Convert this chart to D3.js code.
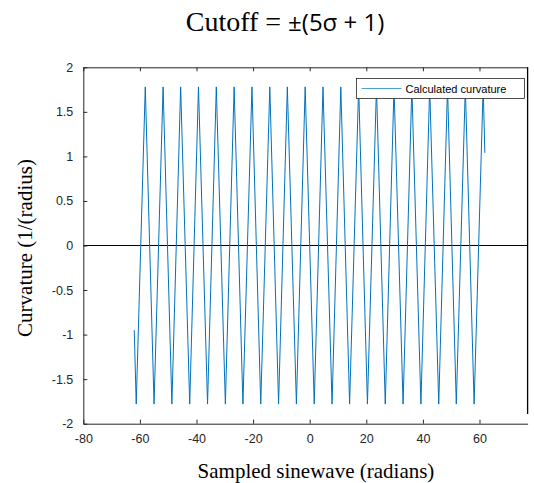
<!DOCTYPE html>
<html><head><meta charset="utf-8">
<script src="https://cdn.jsdelivr.net/npm/d3@7"></script>
<style>body{margin:0;background:#fff}svg{display:block}</style>
</head><body>
<svg id="c" width="534" height="483"></svg>
<script>
// Data: vertices of the curvature trace
const xVals = [-62.0,-61.3,-58.1,-55.0,-51.8,-48.7,-45.6,-42.4,-39.3,-36.1,-33.0,-29.8,-26.7,-23.6,-20.4,-17.3,-14.1,-11.0,-7.9,-4.7,-1.6,1.6,4.7,7.9,11.0,14.1,17.3,20.4,23.6,26.7,29.8,33.0,36.1,39.3,42.4,45.6,48.7,51.8,55.0,58.1,61.3,61.9];
const yVals = [-0.95,-1.78,1.78,-1.78,1.78,-1.78,1.78,-1.78,1.78,-1.78,1.78,-1.78,1.78,-1.78,1.78,-1.78,1.78,-1.78,1.78,-1.78,1.78,-1.78,1.78,-1.78,1.78,-1.78,1.78,-1.78,1.78,-1.78,1.78,-1.78,1.78,-1.78,1.78,-1.78,1.78,-1.78,1.78,-1.78,1.78,1.04];
const xTicks = [-80,-60,-40,-20,0,20,40,60];
const yTicks = [-2,-1.5,-1,-0.5,0,0.5,1,1.5,2];
const seriesName = "Calculated curvature";
const titleSerif = "Cutoff = ";
const titleSans = "±(5σ + 1)";
const xLabel = "Sampled sinewave (radians)";
const yLabel = "Curvature (1/(radius)";

const svg = d3.select("#c");
const x = d3.scaleLinear().domain([-80, 77]).range([83.3, 527.6]);
const y = d3.scaleLinear().domain([-2, 2]).range([423.7, 67.3]);
const axisColor = "#262626";
const tickFont = "Liberation Sans, Arial, sans-serif";

// zero line
svg.append("line").attr("x1", x(-80)).attr("x2", x(77)).attr("y1", y(0)).attr("y2", y(0))
  .attr("stroke", "#000").attr("stroke-width", 1);

// data line
const pts = xVals.map((v, i) => [v, yVals[i]]);
svg.append("path").datum(pts)
  .attr("d", d3.line().x(d => x(d[0])).y(d => y(d[1])))
  .attr("fill", "none").attr("stroke", "#0072BD").attr("stroke-width", 1);

function styleAxis(g) {
  g.selectAll("path").attr("stroke", axisColor);
  g.selectAll("line").attr("stroke", axisColor);
  g.selectAll("text").attr("fill", axisColor).style("font-family", tickFont).style("font-size", "12.5px");
}
const fmt = d => String(d);
// bottom axis
const gb = svg.append("g").attr("transform", `translate(0,${y(-2)})`)
  .call(d3.axisBottom(x).tickValues(xTicks).tickSizeInner(-4).tickSizeOuter(0).tickPadding(10).tickFormat(fmt));
styleAxis(gb);
// top axis
const gt = svg.append("g").attr("transform", `translate(0,${y(2)})`)
  .call(d3.axisTop(x).tickValues(xTicks).tickSizeInner(-4).tickSizeOuter(0).tickFormat(""));
styleAxis(gt);
// left axis
const gl = svg.append("g").attr("transform", `translate(${x(-80)},0)`)
  .call(d3.axisLeft(y).tickValues(yTicks).tickSizeInner(-4).tickSizeOuter(0).tickPadding(10).tickFormat(fmt));
styleAxis(gl);
// right border
svg.append("line").attr("x1", x(77)).attr("x2", x(77)).attr("y1", y(2)).attr("y2", 414)
  .attr("stroke", "#000").attr("stroke-width", 1.3);

// legend
const lg = svg.append("g").attr("transform", "translate(356.5,78.5)");
lg.append("rect").attr("width", 168).attr("height", 20).attr("fill", "#fff").attr("stroke", axisColor).attr("stroke-width", 0.8);
lg.append("line").attr("x1", 5).attr("x2", 45).attr("y1", 10).attr("y2", 10).attr("stroke", "#4d9fd6").attr("stroke-width", 1);
lg.append("text").attr("x", 49).attr("y", 14).text(seriesName)
  .style("font-family", tickFont).style("font-size", "11px").attr("fill", "#000");

// title
const t = svg.append("text").attr("x", 285).attr("y", 31).attr("text-anchor", "middle").attr("fill", "#000");
t.append("tspan").text(titleSerif).style("font-family", "Liberation Serif, Times New Roman, serif").style("font-size", "28px");
t.append("tspan").text(titleSans).style("font-family", "Open Sans, sans-serif").style("font-size", "24px");

// axis labels
svg.append("text").attr("x", 316).attr("y", 478).attr("text-anchor", "middle").text(xLabel)
  .style("font-family", "Liberation Serif, Times New Roman, serif").style("font-size", "21px").attr("fill", "#000");
svg.append("text").attr("transform", "translate(32,248) rotate(-90)").attr("text-anchor", "middle").text(yLabel)
  .style("font-family", "Liberation Serif, Times New Roman, serif").style("font-size", "21px").attr("fill", "#000");
</script>
</body></html>
